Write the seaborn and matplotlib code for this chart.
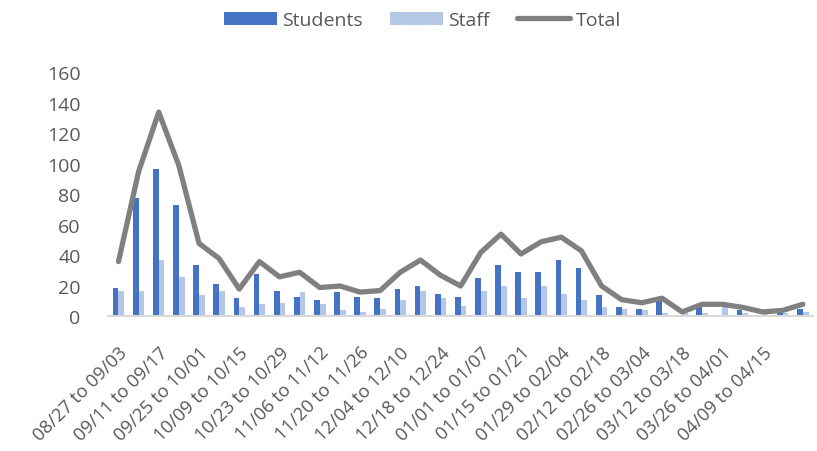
import seaborn as sns
import pandas as pd
import numpy as np
import matplotlib.pyplot as plt

# ------------------------------ data ------------------------------

weeks = ["08/27 to 09/03", "09/04 to 09/10", "09/11 to 09/17", "09/18 to 09/24",
         "09/25 to 10/01", "10/02 to 10/08", "10/09 to 10/15", "10/16 to 10/22",
         "10/23 to 10/29", "10/30 to 11/05", "11/06 to 11/12", "11/13 to 11/19",
         "11/20 to 11/26", "11/27 to 12/03", "12/04 to 12/10", "12/11 to 12/17",
         "12/18 to 12/24", "12/25 to 12/31", "01/01 to 01/07", "01/08 to 01/14",
         "01/15 to 01/21", "01/22 to 01/28", "01/29 to 02/04", "02/05 to 02/11",
         "02/12 to 02/18", "02/19 to 02/25", "02/26 to 03/04", "03/05 to 03/11",
         "03/12 to 03/18", "03/19 to 03/25", "03/26 to 04/01", "04/02 to 04/08",
         "04/09 to 04/15", "04/16 to 04/22", "04/23 to 04/29"]

students = [19, 78, 97, 73, 34, 21, 12, 28, 17, 13, 11, 16, 13, 12, 18, 20, 15, 13,
            25, 34, 29, 29, 37, 32, 14, 6, 5, 10, 1, 6, 1, 4, 1, 2, 5]
staff = [17, 17, 37, 26, 14, 17, 6, 8, 9, 16, 8, 4, 3, 5, 11, 17, 12, 7,
         17, 20, 12, 20, 15, 11, 6, 5, 4, 2, 2, 2, 7, 2, 2, 2, 3]
total = [36, 95, 134, 99, 48, 38, 18, 36, 26, 29, 19, 20, 16, 17, 29, 37, 27, 20,
         42, 54, 41, 49, 52, 43, 20, 11, 9, 12, 3, 8, 8, 6, 3, 4, 8]

yticks = [0, 20, 40, 60, 80, 100, 120, 140, 160]

# ------------------------------ setup ------------------------------

sns.set_style("white")
plt.rcParams["font.family"] = ["Open Sans", "DejaVu Sans"]
grey_txt = "#595959"

df = pd.DataFrame({"week": weeks, "Students": students, "Staff": staff})
long_df = df.melt(id_vars="week", var_name="group", value_name="cases")

fig = plt.figure(figsize=(8.17, 4.52), dpi=100)
ax = fig.add_axes([0.1327, 0.2976, 0.8623, 0.5398])

sns.barplot(data=long_df, x="week", y="cases", hue="group", order=weeks,
            hue_order=["Students", "Staff"], palette=["#4472C4", "#B4C7E7"],
            width=0.57, gap=0, saturation=1, linewidth=0, ax=ax, legend=True)

sns.lineplot(x=np.arange(len(weeks)), y=total, color="#808080", linewidth=3.8,
             label="Total", ax=ax)

# ------------------------------ axes ------------------------------

ax.set_xlim(-0.5, len(weeks) - 0.5)
ax.set_ylim(0, 160)
ax.set_yticks(yticks)
ax.set_yticklabels([str(v) for v in yticks], fontsize=14, color=grey_txt)

shown = list(range(0, len(weeks) - 1, 2))
ax.set_xticks(shown)
ax.set_xticklabels([weeks[i] for i in shown], rotation=45, ha="right",
                   rotation_mode="anchor", fontsize=13.2, color=grey_txt)
ax.tick_params(axis="x", length=0, pad=19)
ax.tick_params(axis="y", length=0, pad=20)
ax.set_xlabel("")
ax.set_ylabel("")

for side in ["top", "right", "left"]:
    ax.spines[side].set_visible(False)
ax.spines["bottom"].set_color("#D9D9D9")
ax.spines["bottom"].set_linewidth(1.5)

handles, labels = ax.get_legend_handles_labels()
ax.get_legend().remove()
leg = fig.legend(handles, labels, loc="center", bbox_to_anchor=(0.517, 0.953),
                 ncol=3, frameon=False, fontsize=14, handlelength=2.7,
                 handletextpad=0.3, columnspacing=1.4, handleheight=0.72)
for t in leg.get_texts():
    t.set_color(grey_txt)

fig.savefig("out.png", dpi=100)
